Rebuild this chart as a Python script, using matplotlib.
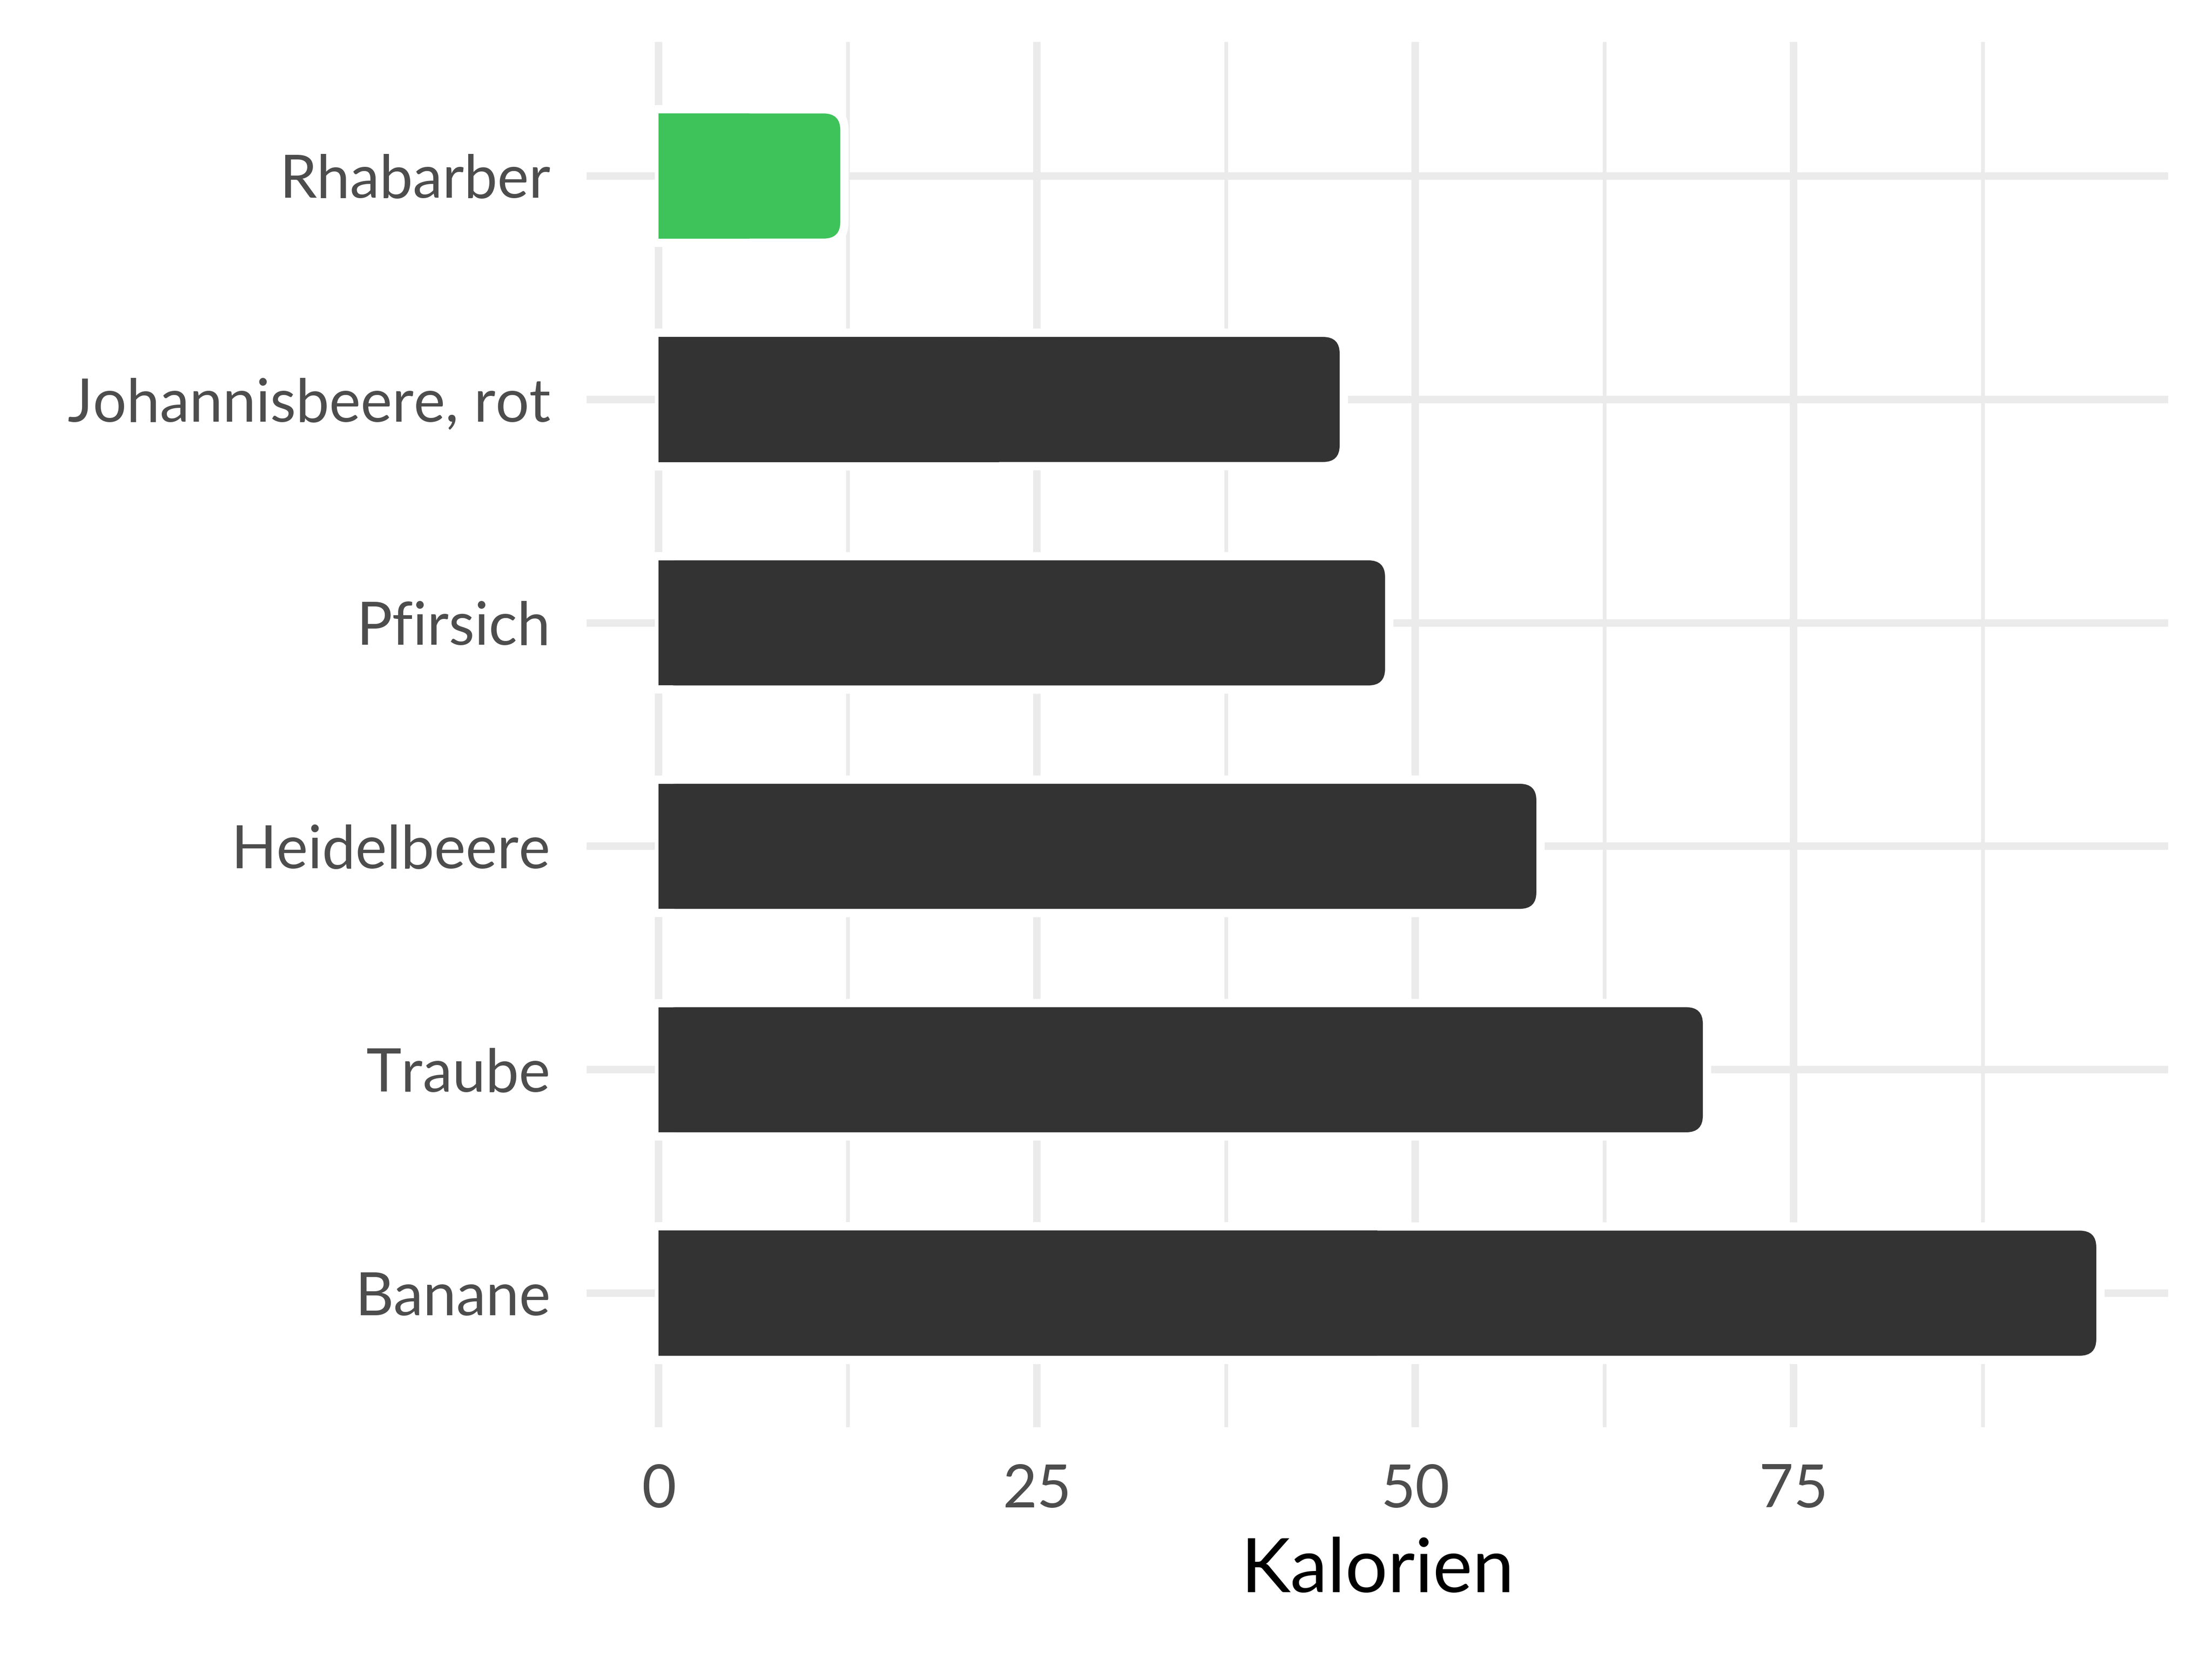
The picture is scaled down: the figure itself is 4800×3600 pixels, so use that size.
import matplotlib
matplotlib.use('Agg')
import matplotlib.pyplot as plt
from matplotlib.patches import FancyBboxPatch, Rectangle
from matplotlib.ticker import FixedLocator

plt.rcParams['font.family'] = ['Lato', 'DejaVu Sans']

# data (bottom to top)
fruits = ['Banane', 'Traube', 'Heidelbeere', 'Pfirsich', 'Johannisbeere, rot', 'Rhabarber']
kalorien = [95, 69, 58, 48, 45, 12]
highlight = 'Rhabarber'

dark = '#333333'
green = '#3EC35A'
grid_col = '#EBEBEB'

fig = plt.figure(figsize=(16, 12), dpi=300)
ax = fig.add_axes([0.2653, 0.1397, 0.9802 - 0.2653, 0.9747 - 0.1397])

ypos = list(range(1, len(fruits) + 1))
bar_h = 0.56
bars = ax.barh(ypos, kalorien, height=bar_h, color='none', edgecolor='none')

ax.set_xlim(-4.75, 99.75)
ax.set_ylim(0.4, 6.6)

# pixel -> data scales for rounded corners
px_x = 104.5 / 3431.5
px_y = 6.2 / 3006.0
r_px = 36
aspect = px_y / px_x


def rounded_bar(x0, y0, w, h, r, color, z):
    # rounded on the right, square on the left
    p = FancyBboxPatch((x0, y0), w, h,
                       boxstyle='round,pad=0,rounding_size=%f' % r,
                       mutation_aspect=aspect, facecolor=color, edgecolor='none',
                       zorder=z)
    ax.add_patch(p)
    ax.add_patch(Rectangle((x0, y0), w / 2, h, facecolor=color, edgecolor='none',
                           zorder=z))


for b, name in zip(bars, fruits):
    x0, y0, w, h = b.get_x(), b.get_y(), b.get_width(), b.get_height()
    col = green if name == highlight else dark
    # white halo that cuts the grid lines
    rounded_bar(x0 - 8 * px_x, y0 - 18 * px_y, w + 26 * px_x, h + 36 * px_y,
                (r_px + 18) * px_x, 'white', 2)
    rounded_bar(x0, y0, w, h, r_px * px_x, col, 3)

ax.set_yticks(ypos)
ax.set_yticklabels(fruits)
ax.set_xticks([0, 25, 50, 75])
ax.xaxis.set_minor_locator(FixedLocator([12.5, 37.5, 62.5, 87.5]))

ax.set_axisbelow(True)
ax.grid(True, which='major', color=grid_col, linewidth=3.9, zorder=0)
ax.grid(True, which='minor', axis='x', color=grid_col, linewidth=1.95, zorder=0)

for s in ax.spines.values():
    s.set_visible(False)
ax.tick_params(axis='both', which='both', length=0)
ax.tick_params(axis='y', labelsize=31, labelcolor='#4D4D4D', pad=19)
ax.tick_params(axis='x', labelsize=31, labelcolor='#4D4D4D', pad=19)

ax.set_xlabel('Kalorien', fontsize=39, color='black', labelpad=10)
ax.set_ylabel('')

fig.savefig('out.png', dpi=300, facecolor='white')
